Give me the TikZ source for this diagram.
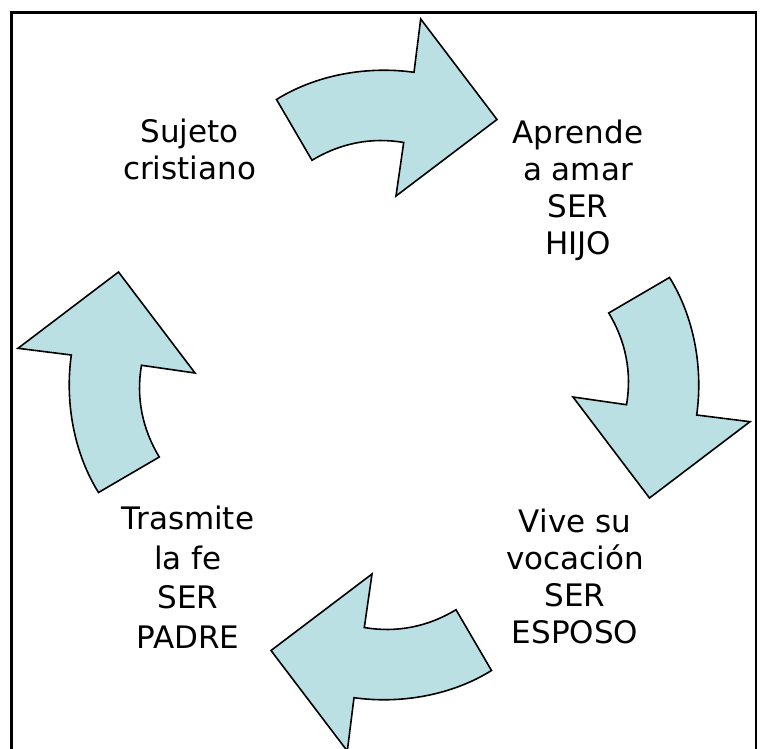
\documentclass[tikz,border=0pt]{standalone}
\usepackage{fontspec}
\setmainfont{DejaVu Sans}
\usepackage{tikz}
\usetikzlibrary{calc}
\definecolor{CycleTeal}{HTML}{bbe0e3}
\tikzset{
  cyclearrow/.style={fill=CycleTeal,draw=black,line width=1.6pt,line join=miter},
  steplabel/.style={align=center,font=\fontsize{31}{37}\selectfont,inner sep=0pt}
}

\begin{document}
\begin{tikzpicture}[x=1pt,y=-1pt]
    \useasboundingbox (0,0) rectangle (764,749);
    \draw[line width=2.7pt] (11.3,749) -- (11.3,12.7) -- (756,12.7) -- (756,749);
    \foreach \ang in {0,-90,-180,-270} {
     \begin{scope}[shift={(384,385)},rotate=\ang]
      \draw[cyclearrow] (-107.5,-285.5) .. controls (-67.6,-310.4) and (-16.5,-319.2) .. (30,-312.7)
        -- (36.7,-366) -- (113,-265.5) -- (12,-189) -- (19.7,-242.5)
        .. controls (-12.1,-248) and (-43.5,-242) .. (-72,-224.7) -- cycle;
     \end{scope}
    }
    \node[steplabel] (sujeto) at (189.5,149) {Sujeto\\cristiano};
    \node[steplabel] (hijo) at (578,190) {Aprende\\a amar\\SER\\HIJO};
    \node[steplabel] (esposo) at (575,576) {Vive su\\vocación\\SER\\ESPOSO};
    \node[steplabel,font=\fontsize{31}{39.5}\selectfont] (padre) at (188,577) {Trasmite\\la fe\\SER\\PADRE};
\end{tikzpicture}
\end{document}
